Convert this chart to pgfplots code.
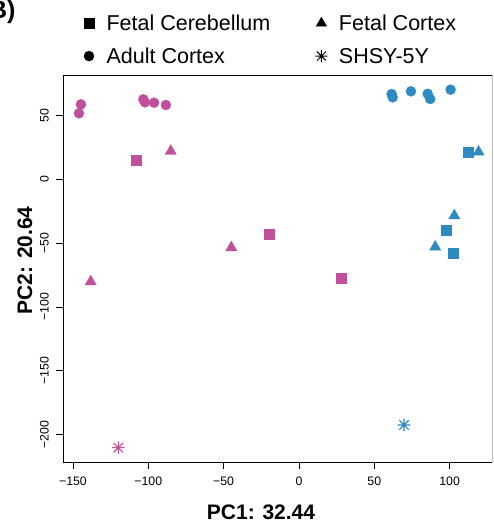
\documentclass[border=0pt]{standalone}
\usepackage{pgfplots}
\pgfplotsset{compat=1.18}
\usepackage{fontspec}
\setmainfont{Liberation Sans}
\definecolor{mag}{HTML}{C1509C}
\definecolor{blu}{HTML}{2D8BC2}
\pgfdeclareplotmark{rstar}{%
  \pgfpathmoveto{\pgfqpoint{0pt}{\pgfplotmarksize}}\pgfpathlineto{\pgfqpoint{0pt}{-\pgfplotmarksize}}%
  \pgfpathmoveto{\pgfqpoint{\pgfplotmarksize}{0pt}}\pgfpathlineto{\pgfqpoint{-\pgfplotmarksize}{0pt}}%
  \pgfpathmoveto{\pgfqpoint{0.75\pgfplotmarksize}{0.75\pgfplotmarksize}}\pgfpathlineto{\pgfqpoint{-0.75\pgfplotmarksize}{-0.75\pgfplotmarksize}}%
  \pgfpathmoveto{\pgfqpoint{0.75\pgfplotmarksize}{-0.75\pgfplotmarksize}}\pgfpathlineto{\pgfqpoint{-0.75\pgfplotmarksize}{0.75\pgfplotmarksize}}%
  \pgfusepathqstroke}
\begin{document}
\begin{tikzpicture}[x=1pt,y=1pt]
\useasboundingbox (0,0) rectangle (494,523);
\begin{axis}[
  at={(63pt,61pt)}, anchor=south west,
  scale only axis, width=429pt, height=387pt,
  xmin=-156.6, xmax=128.1, ymin=-221.4, ymax=81.7,
  axis line style={draw=none},
  tick align=outside, major tick length=6.5pt,
  tick style={black, line width=0.8pt},
  xtick={-150,-100,-50,0,50,100},
  xticklabels={−150,−100,−50,0,50,100},
  ytick={-200,-150,-100,-50,0,50},
  yticklabels={−200,−150,−100,−50,0,50},
  xtick pos=bottom, ytick pos=left,
  ticklabel style={font=\fontsize{12.3}{14}\selectfont, inner sep=0pt},
  xticklabel style={yshift=-8.2pt},
  yticklabel style={rotate=90, anchor=south, yshift=7.5pt},
  clip=false,
  legend columns=2,
  legend style={at={(axis description cs:0.0396,1.156)}, anchor=north west,
    draw=none, fill=none, inner sep=0pt, outer sep=0pt,
    row sep=15.8pt, column sep=0pt,
    font=\fontsize{21.5}{26}\selectfont,
    nodes={inner sep=0pt}, cells={anchor=base}},
  legend image code/.code={%
    \path[draw=none,fill=none] (-9pt,-1pt) rectangle (17.6pt,15pt);
    \draw[#1] plot coordinates {(0pt,7pt)};},
]
\addlegendimage{only marks, black, mark=square*, mark size=5pt}
\addlegendentry{\makebox[205.8pt][l]{Fetal Cerebellum}}
\addlegendimage{only marks, black, mark=triangle*, mark size=6pt}
\addlegendentry{\makebox[130pt][l]{Fetal Cortex}}
\addlegendimage{only marks, black, mark=*, mark size=5pt}
\addlegendentry{\makebox[205.8pt][l]{Adult Cortex}}
\addlegendimage{only marks, black, mark=rstar, mark size=6pt, line width=1pt}
\addlegendentry{\makebox[130pt][l]{SHSY-5Y}}

% Adult Cortex (circles)
\addplot[forget plot, only marks, mark=*, mark size=5pt, color=mag] coordinates {
 (-146,51.7) (-144.7,58.7) (-103.3,62.6) (-102.2,60.3) (-96.2,60) (-88.3,58.2)};
\addplot[forget plot, only marks, mark=*, mark size=5pt, color=blu] coordinates {
 (61.5,66.8) (62.2,64.2) (74.3,68.9) (85.4,67) (87.1,62.9) (100.6,70.2)};
% Fetal Cerebellum (squares)
\addplot[forget plot, only marks, mark=square*, mark size=5pt, color=mag] coordinates {
 (-107.7,14.6) (-19.9,-42.6) (27.9,-77.3)};
\addplot[forget plot, only marks, mark=square*, mark size=5pt, color=blu] coordinates {
 (112.6,21.6) (98,-39.5) (102.6,-57.5)};
% Fetal Cortex (triangles)
\addplot[forget plot, only marks, mark=triangle*, mark size=6.5pt, color=mag] coordinates {
 (-85.1,22.0) (-138.2,-80.2) (-44.9,-53.5)};
\addplot[forget plot, only marks, mark=triangle*, mark size=6.5pt, color=blu] coordinates {
 (119.2,21.4) (103.1,-28.5) (90.4,-53.0)};
% SHSY-5Y (stars)
\addplot[forget plot, only marks, mark=rstar, mark size=6.3pt, line width=1.1pt, color=mag] coordinates {
 (-119.9,-210.2)};
\addplot[forget plot, only marks, mark=rstar, mark size=6.3pt, line width=1.1pt, color=blu] coordinates {
 (69.7,-192.4)};

\draw[black, line width=0.9pt] (rel axis cs:0,0) -- (rel axis cs:0,1) -- (rel axis cs:1,1);
\draw[black, line width=0.9pt] (rel axis cs:0,0) -- (rel axis cs:1,0);
\draw[black!25, line width=0.9pt] (rel axis cs:1,0) -- (rel axis cs:1,1);
\end{axis}
\node[anchor=base east, font=\fontsize{25}{30}\bfseries] at (19,504) {B)};
\node[anchor=base, font=\fontsize{21}{25}\bfseries] at (261,3) {PC1: 32.44};
\node[anchor=base, rotate=90, font=\fontsize{21}{25}\bfseries] at (32,262.5) {PC2: 20.64};
\end{tikzpicture}
\end{document}
